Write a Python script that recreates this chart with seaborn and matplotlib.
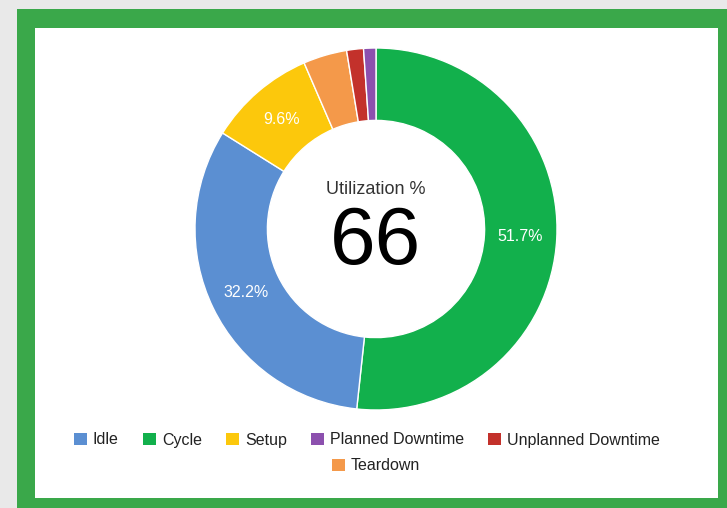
import matplotlib
matplotlib.use("Agg")
import matplotlib.pyplot as plt
from matplotlib.patches import Rectangle, Patch
import seaborn as sns

# slices, clockwise from 12 o'clock
slice_names = ["Cycle", "Idle", "Setup", "Teardown", "Unplanned Downtime", "Planned Downtime"]
slice_pcts = [51.7, 32.2, 9.6, 3.9, 1.5, 1.1]
slice_colors = ["#12b04c", "#5b8fd2", "#fcc80c", "#f4994a", "#c3312b", "#8c50ae"]

# legend order as shown on the chart
legend_names = ["Idle", "Cycle", "Setup", "Planned Downtime", "Unplanned Downtime", "Teardown"]

center_title = "Utilization %"
center_value = "66"

sns.set_theme(style="white")
plt.rcParams["font.family"] = ["Liberation Sans", "DejaVu Sans"]

W, H = 727, 508
fig = plt.figure(figsize=(W / 100, H / 100), dpi=100)
fig.patch.set_facecolor("#e9e9e9")

# green frame + white panel
fig.add_artist(Rectangle((17 / W, 0), 1, 1 - 9 / H, transform=fig.transFigure,
                         facecolor="#3aa84a", edgecolor="none", zorder=0))
fig.add_artist(Rectangle((35 / W, 10 / H), (718 - 35) / W, (498 - 28) / H,
                         transform=fig.transFigure, facecolor="white",
                         edgecolor="none", zorder=0))

# donut axes
cx, cy, r = 376, 229, 181
ax = fig.add_axes([(cx - r) / W, (H - cy - r) / H, 2 * r / W, 2 * r / H])
ax.set_facecolor("none")


def pct_label(p):
    return f"{p:.1f}%" if p >= 5 else ""


wedges, texts, autotexts = ax.pie(
    slice_pcts, colors=slice_colors, startangle=90, counterclock=False,
    radius=1, autopct=pct_label, pctdistance=0.8,
    wedgeprops=dict(width=0.4, edgecolor="white", linewidth=1),
    textprops=dict(color="white", fontsize=11.5))
ax.set_xlim(-1, 1)
ax.set_ylim(-1, 1)
ax.axis("off")

ax.text(0, 0.195, center_title, ha="center", va="baseline", fontsize=13, color="#333333")
ax.text(0, -0.195, center_value, ha="center", va="baseline", fontsize=59, color="black")

# legend: first five on one row, last one centered below
color_of = dict(zip(slice_names, slice_colors))
handles = [Patch(facecolor=color_of[n], edgecolor="none") for n in legend_names]
leg1 = fig.legend(handles[:5], legend_names[:5], loc="center", ncol=5,
                  bbox_to_anchor=(367 / W, 1 - 440 / H), frameon=False,
                  fontsize=11.5, handlelength=0.8, handleheight=0.8,
                  handletextpad=0.4, columnspacing=1.5, labelcolor="#222222")
leg2 = fig.legend(handles[5:], legend_names[5:], loc="center", ncol=1,
                  bbox_to_anchor=(376 / W, 1 - 466 / H), frameon=False,
                  fontsize=11.5, handlelength=0.8, handleheight=0.8,
                  handletextpad=0.4, labelcolor="#222222")

fig.savefig("out.png", dpi=100, facecolor=fig.get_facecolor())
